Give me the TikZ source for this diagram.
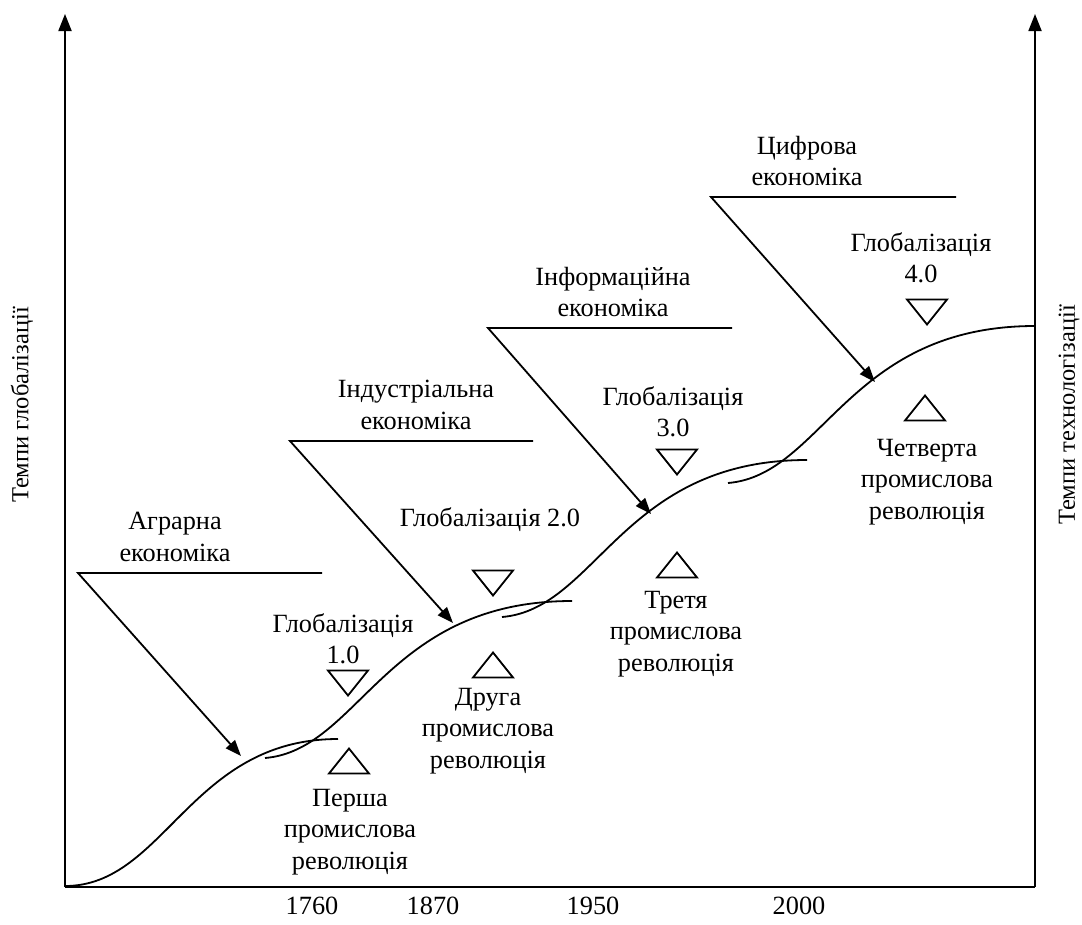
\documentclass[tikz,border=0pt]{standalone}
\usepackage{fontspec}
\setmainfont{Liberation Serif}
\usetikzlibrary{arrows.meta}
\begin{document}
\begin{tikzpicture}[x=1pt, y=-1pt,
	axis/.style={line width=1.8pt, -{Triangle[length=17pt, width=13pt]}},
	pointer/.style={line width=1.8pt, line join=miter, -{Triangle[length=16pt, width=12pt]}},
	wave/.style={line width=1.8pt},
	lbl/.style={align=center, inner sep=0pt, font=\fontsize{26.3}{31.5}\selectfont},
	side/.style={inner sep=0pt, rotate=90, font=\fontsize{24.5}{28}\selectfont},
	down/.pic={\draw[line width=1.8pt] (-20,-12.5) -- (20,-12.5) -- (0,12.5) -- cycle;},
	up/.pic={\draw[line width=1.8pt] (-20,12.5) -- (20,12.5) -- (0,-12.5) -- cycle;}]
	\useasboundingbox (0,0) rectangle (1082,924);
	\coordinate (o) at (65,887);
	\coordinate (e) at (1035,887);
	\coordinate (ytop) at (65,14);
	\coordinate (ttop) at (1035,14);
	\draw[axis] (o) -- (ytop);
	\draw[axis] (e) -- (ttop);
	\draw[wave] (o) -- (e);
	\node[side] (glob) at (22,405) {Темпи глобалізації};
	\node[side] (tech) at (1069,415) {Темпи технологізації};
	\draw[wave] (65,886) .. controls (165,886) and (190,739) .. (338,739);
	\draw[wave] (265,758) .. controls (360,750) and (385,601) .. (572,601);
	\draw[wave] (502,617) .. controls (597,609) and (622,460) .. (807,460);
	\draw[wave] (728,483) .. controls (823,475) and (848,326) .. (1035,326);
	\coordinate (agr-r) at (322,573);
	\coordinate (agr-l) at (78,573);
	\coordinate (agr-tip) at (241,756);
	\coordinate (ind-r) at (533,441);
	\coordinate (ind-l) at (290,441);
	\coordinate (ind-tip) at (453,623);
	\coordinate (inf-r) at (732,328);
	\coordinate (inf-l) at (488,328);
	\coordinate (inf-tip) at (651,514);
	\coordinate (dig-r) at (956,197);
	\coordinate (dig-l) at (711,197);
	\coordinate (dig-tip) at (875,382);
	\draw[pointer] (agr-r) -- (agr-l) -- (agr-tip);
	\draw[pointer] (ind-r) -- (ind-l) -- (ind-tip);
	\draw[pointer] (inf-r) -- (inf-l) -- (inf-tip);
	\draw[pointer] (dig-r) -- (dig-l) -- (dig-tip);
	\node[lbl] (agr) at (175,537) {Аграрна\\економіка};
	\node[lbl] (ind) at (416,405) {Індустріальна\\економіка};
	\node[lbl] (inf) at (613,292) {Інформаційна\\економіка};
	\node[lbl] (dig) at (807,161) {Цифрова\\економіка};
	\node[lbl] (g1) at (343,639) {Глобалізація\\1.0};
	\node[lbl] (g2) at (490,520) {Глобалізація 2.0};
	\node[lbl] (g3) at (673,412) {Глобалізація\\3.0};
	\node[lbl] (g4) at (921,258) {Глобалізація\\4.0};
	\pic at (348,683) {down};
	\pic at (493,583) {down};
	\pic at (677,462) {down};
	\pic at (927,312) {down};
	\pic at (349,761) {up};
	\pic at (493,665) {up};
	\pic at (677,565) {up};
	\pic at (925,408) {up};
	\node[lbl] (r1) at (350,832) {Перша\\промислова\\революція};
	\node[lbl] (r2) at (488,731) {Друга\\промислова\\революція};
	\node[lbl] (r3) at (676,634) {Третя\\промислова\\революція};
	\node[lbl] (r4) at (927,482) {Четверта\\промислова\\революція};
	\node[lbl] (y1) at (312,906) {1760};
	\node[lbl] (y2) at (433,906) {1870};
	\node[lbl] (y3) at (593,906) {1950};
	\node[lbl] (y4) at (799,906) {2000};
\end{tikzpicture}
\end{document}
